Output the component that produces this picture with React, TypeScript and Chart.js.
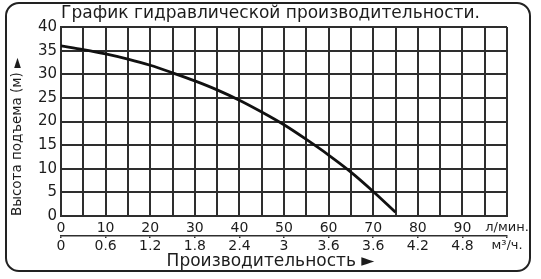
import React, { useEffect, useRef } from 'react';
import { Chart, registerables } from 'chart.js';

Chart.register(...registerables);

// Pump performance curve: flow (l/min) vs head (m)
const flowValues = [0, 5, 10, 15, 20, 25, 30, 35, 40, 45, 50, 55, 60, 65, 70, 75];
const headValues = [36.0, 35.2, 34.3, 33.2, 31.9, 30.3, 28.6, 26.7, 24.5, 22.0, 19.3, 16.2, 12.9, 9.3, 5.2, 0.8];

// Axis labels: l/min row and m³/h row (one label per 10 l/min)
const flowTickLabels = ['0', '10', '20', '30', '40', '50', '60', '70', '80', '90'];
const volumeTickLabels = ['0', '0,6', '1,2', '1,8', '2,4', '3', '3,6', '3,6', '4,2', '4,8'];
const flowUnit = 'л/мин.';
const volumeUnit = 'м³/ч.';

const titleText = 'График гидравлической производительности.';
const yTitleText = 'Высота подъема (м) ►';
const xTitleText = 'Производительность ►';

const FONT = "'DejaVu Sans', 'Liberation Sans', sans-serif";
const INK = '#1c1c1c';
const GRID = '#2e2e2e';

const tickFont = (ctx: any) => ({
  family: FONT,
  size: ctx && ctx.tick && ctx.tick.value === 100 ? 13 : 14,
});

export default function App() {
  const canvasRef = useRef<HTMLCanvasElement>(null);

  useEffect(() => {
    const canvas = canvasRef.current;
    if (!canvas) return;

    const chart = new Chart(canvas, {
      type: 'line',
      data: {
        datasets: [
          {
            data: flowValues.map((q, i) => ({ x: q, y: headValues[i] })),
            borderColor: '#111111',
            borderWidth: 2.8,
            pointRadius: 0,
            cubicInterpolationMode: 'monotone',
            fill: false,
          },
        ],
      },
      options: {
        animation: false,
        responsive: false,
        devicePixelRatio: 1,
        layout: { padding: 0 },
        plugins: {
          legend: { display: false },
          tooltip: { enabled: false },
          title: {
            display: true,
            text: titleText,
            color: INK,
            font: { family: FONT, size: 17, weight: 'normal' },
            padding: { top: 3.3, bottom: 3.3 },
          },
          subtitle: {
            display: true,
            position: 'bottom',
            text: xTitleText,
            color: INK,
            font: { family: FONT, size: 17, weight: 'normal' },
            padding: { top: 1, bottom: 7.6 },
          },
        },
        scales: {
          x: {
            type: 'linear',
            position: 'bottom',
            weight: 0,
            min: 0,
            max: 100,
            ticks: {
              stepSize: 5,
              autoSkip: false,
              maxRotation: 0,
              padding: 4,
              color: INK,
              font: tickFont,
              callback: (value: any) => {
                const v = Number(value);
                if (v === 100) return flowUnit;
                return v % 10 === 0 ? flowTickLabels[v / 10] : '';
              },
            },
            grid: { color: GRID, lineWidth: 2, drawTicks: false },
            border: { color: GRID, width: 2 },
            afterFit: (s: any) => {
              s.height = 20;
            },
          },
          x2: {
            type: 'linear',
            position: 'bottom',
            weight: 1,
            min: 0,
            max: 100,
            ticks: {
              stepSize: 10,
              autoSkip: false,
              maxRotation: 0,
              padding: -0.5,
              color: INK,
              font: tickFont,
              callback: (value: any) => {
                const v = Number(value);
                if (v === 100) return volumeUnit;
                return volumeTickLabels[v / 10];
              },
            },
            grid: { drawOnChartArea: false, drawTicks: true, tickLength: 2, color: GRID, lineWidth: 1.5 },
            border: { color: GRID, width: 1.5 },
            afterFit: (s: any) => {
              s.height = 14;
            },
          },
          y: {
            type: 'linear',
            position: 'left',
            min: 0,
            max: 40,
            ticks: {
              stepSize: 5,
              padding: 4,
              color: INK,
              font: { family: FONT, size: 15 },
            },
            grid: { color: GRID, lineWidth: 2, drawTicks: false },
            border: { color: GRID, width: 2 },
            title: {
              display: true,
              text: yTitleText,
              align: 'start',
              color: INK,
              font: { family: FONT, size: 13.5 },
              padding: { top: 9.5, bottom: 0 },
            },
            afterFit: (s: any) => {
              s.width = 61;
            },
          },
          // empty margin on the right, keeps room for the unit labels
          yRight: {
            type: 'linear',
            position: 'right',
            ticks: { display: false },
            grid: { display: false },
            border: { display: false },
            afterFit: (s: any) => {
              s.width = 34;
            },
          },
        },
      } as any,
    });

    return () => chart.destroy();
  }, []);

  return (
    <div
      style={{
        position: 'fixed',
        left: 0,
        top: 0,
        width: 541,
        height: 279,
        background: '#ffffff',
      }}
    >
      <canvas
        ref={canvasRef}
        width={541}
        height={279}
        style={{ position: 'absolute', left: 0, top: 0, width: 541, height: 279 }}
      />
      <div
        style={{
          position: 'absolute',
          left: 5,
          top: 2,
          width: 526,
          height: 270,
          boxSizing: 'border-box',
          border: '2px solid #222222',
          borderRadius: 14,
          pointerEvents: 'none',
        }}
      />
    </div>
  );
}
